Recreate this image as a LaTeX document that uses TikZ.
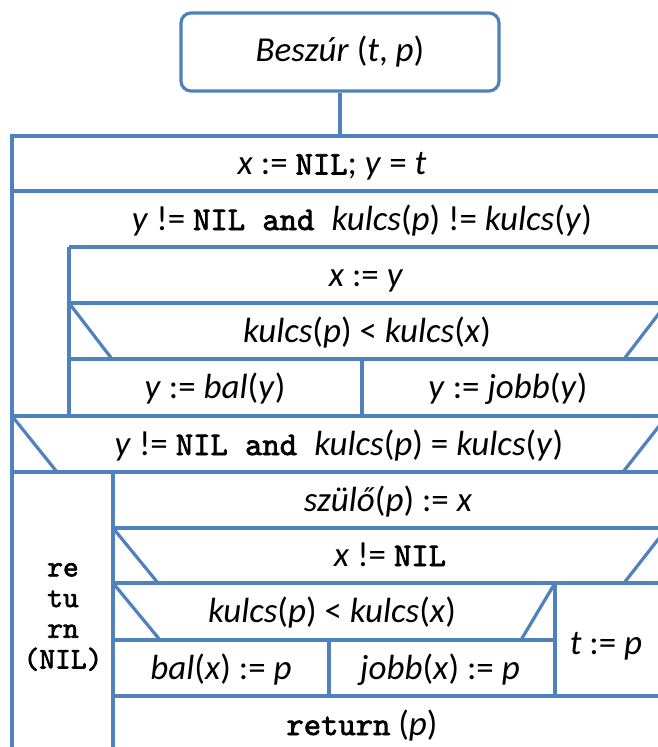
\documentclass[tikz,border=0pt]{standalone}
\usepackage{fontspec}
\setmainfont{Carlito}
\newfontfamily\monob{lmmono10-regular.otf}[FakeBold=2.2]
\definecolor{nsblue}{RGB}{79,129,189}
\newcommand\iv[1]{\textit{#1}}
\newcommand\kw[1]{{\monob\fontsize{33}{36}\selectfont #1}}
\begin{document}
\begin{tikzpicture}[x=1pt,y=-1pt,
  ln/.style={draw=nsblue,line width=3.2pt},
  lbl/.style={font=\fontsize{35}{40}\selectfont,inner sep=0pt,anchor=base},
  retcol/.style={font=\monob\fontsize{30}{30.7}\selectfont,align=center,inner sep=0pt}]
\useasboundingbox (0,0) rectangle (658,747);
\fill[white] (0,0) rectangle (658,747);
\begin{scope}
\clip (0,0) rectangle (658,747);
% procedure header and its link to the structogram
\node[ln,rounded corners=10pt,minimum width=318pt,minimum height=78pt,inner sep=0pt,
      font=\fontsize{35}{40}\selectfont] (head) at (340,52) {\iv{Beszúr} (\iv{t}, \iv{p})};
\coordinate (top) at (340,136);
\draw[ln] (head) -- (top);

% outer frame
\draw[ln] (12,760) -- (12,136) -- (667,136) -- (667,760);
% horizontal rules
\draw[ln] (12,191) -- (667,191);
\draw[ln] (69,247) -- (667,247);
\draw[ln] (69,303) -- (667,303);
\draw[ln] (69,359) -- (667,359);
\draw[ln] (12,416) -- (667,416);
\draw[ln] (12,472) -- (667,472);
\draw[ln] (113,528) -- (667,528);
\draw[ln] (113,583) -- (667,583);
\draw[ln] (113,640) -- (555,640);
\draw[ln] (113,696) -- (667,696);
% vertical rules
\draw[ln] (69,247) -- (69,416);
\draw[ln] (362,359) -- (362,416);
\draw[ln] (113,472) -- (113,760);
\draw[ln] (555,583) -- (555,696);
\draw[ln] (329,640) -- (329,696);
% condition triangles
\draw[ln] (69,303) -- (112,359);
\draw[ln] (624,359) -- (667,303);
\draw[ln] (12,416) -- (57,472);
\draw[ln] (623,472) -- (667,416);
\draw[ln] (113,528) -- (158,583);
\draw[ln] (624,583) -- (667,528);
\draw[ln] (113,583) -- (160,640);
\draw[ln] (521,640) -- (555,583);

% texts
\node[lbl] (s1) at (332,174.5) {\iv{x} := \kw{NIL}; \iv{y} = \iv{t}};
\node[lbl] (w1) at (362,230) {\iv{y} != \kw{NIL and }\iv{kulcs}(\iv{p}) != \iv{kulcs}(\iv{y})};
\node[lbl] (s2) at (366,286) {\iv{x} := \iv{y}};
\node[lbl] (c1) at (367,342) {\iv{kulcs}(\iv{p}) < \iv{kulcs}(\iv{x})};
\node[lbl] (b1) at (215,398) {\iv{y} := \iv{bal}(\iv{y})};
\node[lbl] (j1) at (508,398) {\iv{y} := \iv{jobb}(\iv{y})};
\node[lbl] (c2) at (339,455) {\iv{y} != \kw{NIL and }\iv{kulcs}(\iv{p}) = \iv{kulcs}(\iv{y})};
\node[lbl] (s3) at (388,511) {\iv{szülő}(\iv{p}) := \iv{x}};
\node[lbl] (c3) at (390,566) {\iv{x} != \kw{NIL}};
\node[lbl] (c4) at (332,622) {\iv{kulcs}(\iv{p}) < \iv{kulcs}(\iv{x})};
\node[lbl] (b2) at (221,679) {\iv{bal}(\iv{x}) := \iv{p}};
\node[lbl] (j2) at (440,679) {\iv{jobb}(\iv{x}) := \iv{p}};
\node[lbl] (tp) at (606,654) {\iv{t} := \iv{p}};
\node[lbl] (rp) at (362,735) {\kw{return} (\iv{p})};
\node[retcol] (rn) at (63,617) {re\\tu\\rn\\(NIL)};
\end{scope}
\end{tikzpicture}
\end{document}
